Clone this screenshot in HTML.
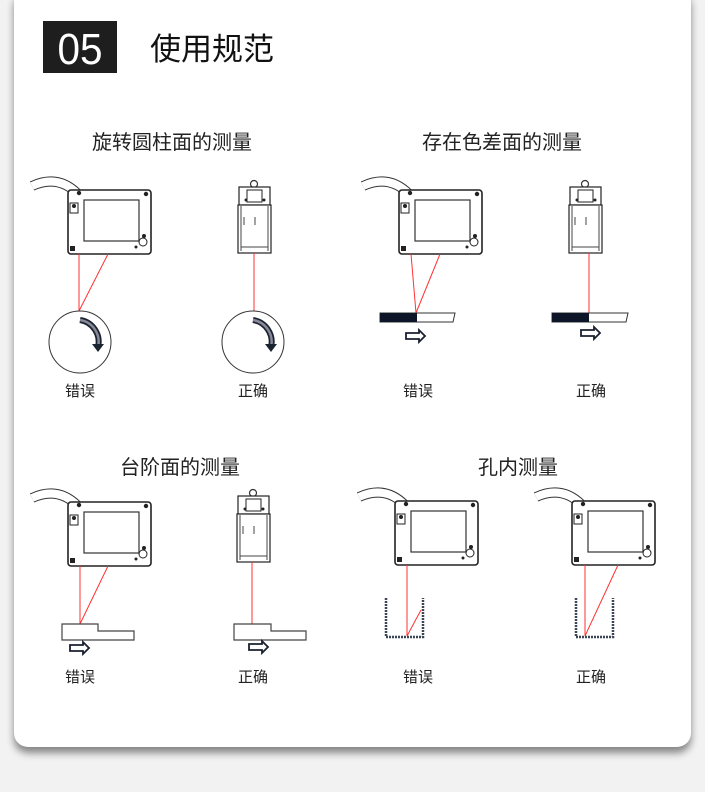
<!DOCTYPE html>
<html><head><meta charset="utf-8"><style>
html,body{margin:0;padding:0;background:#f2f2f2;width:705px;height:792px;overflow:hidden}
.card{position:absolute;left:14px;top:-12px;width:677px;height:759px;background:#fff;border-radius:14px;box-shadow:0 6px 8px rgba(0,0,0,.45)}
svg{position:absolute;left:0;top:0}
text{font-family:"Liberation Sans","Noto Sans CJK SC",sans-serif}
</style></head><body>
<div class="card"></div>
<svg width="705" height="792" viewBox="0 0 705 792">
<defs>
<g id="front">
  <path d="M-36,-4 Q-10,-16 10,4" fill="none" stroke="#333" stroke-width="10"/>
  <path d="M-36,-4 Q-10,-16 10,4" fill="none" stroke="#fff" stroke-width="8"/>
  <rect x="0" y="0" width="83" height="64" rx="3" fill="#fff" stroke="#222" stroke-width="1.6"/>
  <rect x="16" y="10" width="55" height="41" fill="#fff" stroke="#333" stroke-width="1.2"/>
  <circle cx="11" cy="3" r="2.2" fill="#222"/>
  <circle cx="78" cy="4" r="2.2" fill="#222"/>
  <rect x="2" y="13" width="8" height="10" fill="none" stroke="#222"/>
  <circle cx="6" cy="16" r="2" fill="#222"/>
  <rect x="2" y="56" width="5" height="5" fill="#222"/>
  <circle cx="75" cy="52" r="4" fill="none" stroke="#222"/>
  <circle cx="76" cy="46" r="2" fill="#222"/>
  <circle cx="68" cy="57" r="1.5" fill="#222"/>
</g>
<g id="side">
  <circle cx="16" cy="-3" r="3.5" fill="none" stroke="#333" stroke-width="1.2"/>
  <rect x="1" y="0" width="31" height="18" fill="#fff" stroke="#222" stroke-width="1.2"/>
  <rect x="9" y="3" width="15" height="12" fill="none" stroke="#222"/>
  <circle cx="8" cy="13" r="1.5" fill="#222"/><circle cx="26" cy="13" r="1.5" fill="#222"/>
  <rect x="0" y="18" width="33" height="48" fill="#fff" stroke="#222" stroke-width="1.2"/>
  <line x1="3" y1="19" x2="3" y2="64" stroke="#444"/><line x1="30" y1="19" x2="30" y2="64" stroke="#444"/>
  <line x1="3" y1="60" x2="30" y2="60" stroke="#444"/>
  <line x1="6" y1="30" x2="6" y2="38" stroke="#444"/><line x1="17" y1="30" x2="17" y2="38" stroke="#444"/>
</g>
<g id="arr"><path d="M0,-3 H13 V-6 L19,0 L13,6 V3 H0 Z" fill="#fff" stroke="#1a2030" stroke-width="1.8"/></g>
<g id="rot"><path d="M22,-22 A22,22 0 0 1 40,5" fill="none" stroke="#1a2430" stroke-width="6"/><path d="M22,-22 A22,22 0 0 1 40,5" fill="none" stroke="#889" stroke-width="2.5"/><path d="M34,2 L46,2 L40,10 Z" fill="#1a2430"/></g>
</defs>

<rect x="43" y="21" width="74" height="52" fill="#1e1e1e"/>
<text x="80" y="64" font-size="44" fill="#fff" text-anchor="middle" transform="translate(80 0) scale(0.92 1) translate(-80 0)">05</text>
<text x="150" y="60" font-size="31" fill="#111">使用规范</text>

<g font-size="20" fill="#222" text-anchor="middle">
<text x="172" y="149">旋转圆柱面的测量</text>
<text x="502" y="149">存在色差面的测量</text>
<text x="180" y="474">台阶面的测量</text>
<text x="518" y="474">孔内测量</text>
</g>
<g font-size="15" fill="#222" text-anchor="middle">
<text x="80" y="396">错误</text><text x="253" y="396">正确</text>
<text x="418" y="396">错误</text><text x="591" y="396">正确</text>
<text x="80" y="682">错误</text><text x="253" y="682">正确</text>
<text x="418" y="682">错误</text><text x="591" y="682">正确</text>
</g>

<use href="#front" x="68" y="190"/>
<line x1="79" y1="254" x2="79" y2="311" stroke="#f33"/><line x1="108" y1="254" x2="79" y2="311" stroke="#f33"/>
<circle cx="80" cy="342" r="31" fill="#fff" stroke="#333" stroke-width="1"/>
<use href="#rot" x="58" y="342"/>
<use href="#side" x="238" y="187"/>
<line x1="254" y1="253" x2="254" y2="313" stroke="#f33"/>
<circle cx="253" cy="342" r="31" fill="#fff" stroke="#333" stroke-width="1"/>
<use href="#rot" x="231" y="342"/>

<use href="#front" x="399" y="190"/>
<line x1="411" y1="254" x2="416" y2="313" stroke="#f33"/><line x1="440" y1="254" x2="416" y2="313" stroke="#f33"/>
<path d="M380,313 H455 L453,322 H380 Z" fill="#fff" stroke="#333"/>
<rect x="380" y="313" width="37" height="9" fill="#0c1628"/>
<use href="#arr" x="406" y="336"/>
<use href="#side" x="569" y="187"/>
<line x1="589" y1="253" x2="589" y2="313" stroke="#f33"/>
<path d="M552,313 H628 L626,322 H552 Z" fill="#fff" stroke="#333"/>
<rect x="552" y="313" width="37" height="9" fill="#0c1628"/>
<use href="#arr" x="581" y="333"/>

<use href="#front" x="68" y="502"/>
<line x1="80" y1="566" x2="80" y2="624" stroke="#f33"/><line x1="108" y1="566" x2="80" y2="624" stroke="#f33"/>
<path d="M62,624 H98 V631 H134 V640 H62 Z" fill="#fff" stroke="#444" stroke-width="1.2"/>
<use href="#arr" x="70" y="648"/>
<use href="#side" x="237" y="496"/>
<line x1="252" y1="562" x2="252" y2="624" stroke="#f33"/>
<path d="M234,624 H271 V631 H306 V640 H234 Z" fill="#fff" stroke="#444" stroke-width="1.2"/>
<use href="#arr" x="249" y="647"/>

<use href="#front" x="395" y="501"/>
<line x1="407" y1="565" x2="407" y2="636" stroke="#f33"/><line x1="407" y1="636" x2="421" y2="610" stroke="#f33"/>
<path d="M386,598 V637 H423 V598" fill="none" stroke="#3a4555" stroke-width="2.5" stroke-dasharray="2 1"/>
<use href="#front" x="572" y="501"/>
<line x1="585" y1="565" x2="585" y2="636" stroke="#f33"/><line x1="618" y1="565" x2="585" y2="636" stroke="#f33"/>
<path d="M576,598 V637 H613 V598" fill="none" stroke="#3a4555" stroke-width="2.5" stroke-dasharray="2 1"/>
</svg>
</body></html>
